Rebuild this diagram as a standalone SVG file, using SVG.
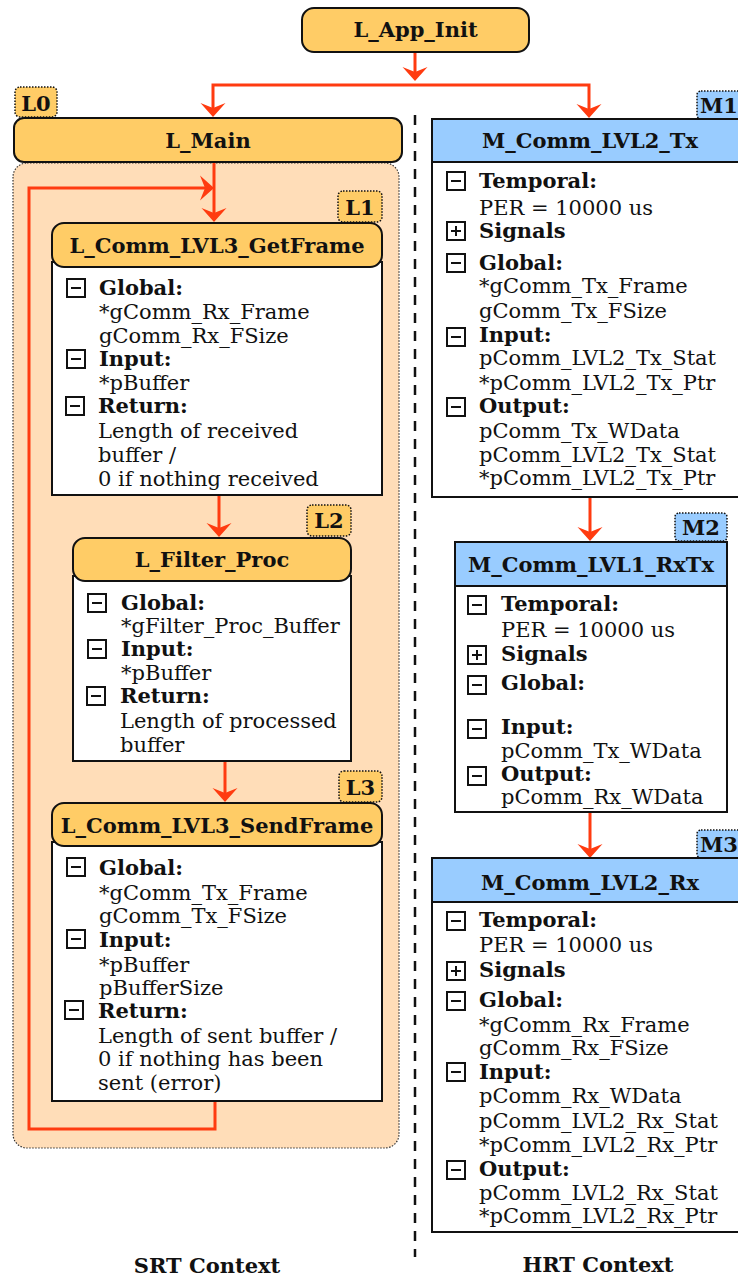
<svg xmlns="http://www.w3.org/2000/svg" xmlns:xlink="http://www.w3.org/1999/xlink" width="738" height="1277" viewBox="0 0 738 1277">
<style>
.t{font-family:"DejaVu Serif",serif;font-weight:bold;font-size:21px;text-anchor:middle;fill:#111}
.b{font-family:"DejaVu Serif",serif;font-weight:bold;font-size:21px;fill:#111}
.r{font-family:"DejaVu Serif",serif;font-size:21px;fill:#111}
.org{fill:#FFCC66;stroke:#111;stroke-width:2}
.blu{fill:#99CCFF;stroke:#111;stroke-width:2}
.body{fill:#fff;stroke:#111;stroke-width:2}
.bo{fill:#FFCC66;stroke:#111;stroke-width:1.5;stroke-dasharray:1.5 1.5}
.bb{fill:#99CCFF;stroke:#111;stroke-width:1.5;stroke-dasharray:1.5 1.5}
.con{fill:none;stroke:#FF3B10;stroke-width:3}
</style>
<defs>
<marker id="ah" viewBox="-11 -13 16 26" refX="0" refY="0" markerWidth="16" markerHeight="26" markerUnits="userSpaceOnUse" orient="auto">
<path d="M4,0 L-10,-12.5 L-5,0 L-10,12.5 Z" fill="#FF3B10"/>
</marker>
<g id="mi"><rect x="0" y="0" width="18" height="18" fill="#fff" stroke="#111" stroke-width="2"/><line x1="4" y1="9" x2="14" y2="9" stroke="#111" stroke-width="2"/></g>
<g id="pl"><rect x="0" y="0" width="18" height="18" fill="#fff" stroke="#111" stroke-width="2"/><line x1="4" y1="9" x2="14" y2="9" stroke="#111" stroke-width="2"/><line x1="9" y1="4" x2="9" y2="14" stroke="#111" stroke-width="2"/></g>
</defs>

<g id="container-L0">
<rect x="13" y="163" width="386" height="985" rx="14" fill="#FFDDB8" stroke="#333" stroke-width="1.2" stroke-dasharray="1.5 1.5"/>
</g>

<line x1="415" y1="115" x2="415" y2="1257" stroke="#111" stroke-width="2.5" stroke-dasharray="10 8"/>

<g id="connectors">
<path class="con" d="M415,52 V77" marker-end="url(#ah)"/>
<path class="con" d="M415,85 H213 V113" marker-end="url(#ah)"/>
<path class="con" d="M415,85 H589 V114" marker-end="url(#ah)"/>
<path class="con" d="M214,163 V218" marker-end="url(#ah)"/>
<path class="con" d="M215,1101 V1129 H29 V188 H210" marker-end="url(#ah)"/>
<path class="con" d="M219,496 V533" marker-end="url(#ah)"/>
<path class="con" d="M225,761 V798" marker-end="url(#ah)"/>
<path class="con" d="M590,497 V537" marker-end="url(#ah)"/>
<path class="con" d="M590,812 V854" marker-end="url(#ah)"/>
</g>

<g id="L_App_Init">
<rect class="org" x="302" y="8" width="227" height="44" rx="12"/>
<text class="t" x="415.5" y="37">L_App_Init</text>
</g>

<g id="badge-L0"><rect class="bo" x="15" y="87" width="42" height="30" rx="5"/><text class="t" x="36" y="111">L0</text></g>
<g id="L_Main">
<rect class="org" x="14" y="118" width="388" height="44" rx="10"/>
<text class="t" x="208" y="148">L_Main</text>
</g>

<g id="badge-L1"><rect class="bo" x="338" y="191" width="44" height="31" rx="5"/><text class="t" x="360" y="215">L1</text></g>
<g id="L_Comm_LVL3_GetFrame">
<rect class="body" x="52" y="262" width="330" height="233"/>
<rect class="org" x="52" y="223" width="330" height="44" rx="12"/>
<text class="t" x="217" y="253">L_Comm_LVL3_GetFrame</text>
<use xlink:href="#mi" x="67" y="279"/><text class="b" x="99" y="295">Global:</text>
<text class="r" x="99" y="319">*gComm_Rx_Frame</text>
<text class="r" x="99" y="343">gComm_Rx_FSize</text>
<use xlink:href="#mi" x="67" y="350"/><text class="b" x="99" y="366">Input:</text>
<text class="r" x="99" y="390">*pBuffer</text>
<use xlink:href="#mi" x="66" y="397"/><text class="b" x="98" y="413">Return:</text>
<text class="r" x="98" y="438">Length of received</text>
<text class="r" x="98" y="462">buffer /</text>
<text class="r" x="98" y="486">0 if nothing received</text>
</g>

<g id="badge-L2"><rect class="bo" x="307" y="505" width="44" height="31" rx="5"/><text class="t" x="329" y="528">L2</text></g>
<g id="L_Filter_Proc">
<rect class="body" x="73" y="576" width="278" height="185"/>
<rect class="org" x="73" y="538" width="278" height="43" rx="12"/>
<text class="t" x="212" y="567">L_Filter_Proc</text>
<use xlink:href="#mi" x="88" y="594"/><text class="b" x="121" y="610">Global:</text>
<text class="r" x="121" y="633">*gFilter_Proc_Buffer</text>
<use xlink:href="#mi" x="88" y="640"/><text class="b" x="121" y="656">Input:</text>
<text class="r" x="121" y="680">*pBuffer</text>
<use xlink:href="#mi" x="87" y="687"/><text class="b" x="120" y="703">Return:</text>
<text class="r" x="120" y="728">Length of processed</text>
<text class="r" x="120" y="752">buffer</text>
</g>

<g id="badge-L3"><rect class="bo" x="339" y="771" width="43" height="31" rx="5"/><text class="t" x="360.5" y="795">L3</text></g>
<g id="L_Comm_LVL3_SendFrame">
<rect class="body" x="52" y="842" width="330" height="259"/>
<rect class="org" x="52" y="803" width="330" height="43" rx="12"/>
<text class="t" x="217" y="833">L_Comm_LVL3_SendFrame</text>
<use xlink:href="#mi" x="67" y="858"/><text class="b" x="99" y="875">Global:</text>
<text class="r" x="99" y="900">*gComm_Tx_Frame</text>
<text class="r" x="99" y="923">gComm_Tx_FSize</text>
<use xlink:href="#mi" x="67" y="930"/><text class="b" x="99" y="947">Input:</text>
<text class="r" x="99" y="972">*pBuffer</text>
<text class="r" x="99" y="995">pBufferSize</text>
<use xlink:href="#mi" x="65" y="1001"/><text class="b" x="98" y="1018">Return:</text>
<text class="r" x="98" y="1043">Length of sent buffer /</text>
<text class="r" x="98" y="1066">0 if nothing has been</text>
<text class="r" x="98" y="1090">sent (error)</text>
</g>

<g id="badge-M1"><rect class="bb" x="697" y="91" width="52" height="28" rx="4"/><text class="b" x="700" y="113">M1</text></g>
<g id="M_Comm_LVL2_Tx">
<rect class="body" x="432" y="162" width="316" height="335"/>
<rect class="blu" x="432" y="119" width="316" height="43"/>
<text class="t" x="590" y="148">M_Comm_LVL2_Tx</text>
<use xlink:href="#mi" x="447" y="172"/><text class="b" x="479" y="188">Temporal:</text>
<text class="r" x="479" y="215">PER = 10000 us</text>
<use xlink:href="#pl" x="447" y="222"/><text class="b" x="479" y="238">Signals</text>
<use xlink:href="#mi" x="447" y="254"/><text class="b" x="479" y="270">Global:</text>
<text class="r" x="479" y="293">*gComm_Tx_Frame</text>
<text class="r" x="479" y="318">gComm_Tx_FSize</text>
<use xlink:href="#mi" x="447" y="328"/><text class="b" x="479" y="342">Input:</text>
<text class="r" x="479" y="365">pComm_LVL2_Tx_Stat</text>
<text class="r" x="479" y="390">*pComm_LVL2_Tx_Ptr</text>
<use xlink:href="#mi" x="447" y="398"/><text class="b" x="479" y="413">Output:</text>
<text class="r" x="479" y="438">pComm_Tx_WData</text>
<text class="r" x="479" y="462">pComm_LVL2_Tx_Stat</text>
<text class="r" x="479" y="485">*pComm_LVL2_Tx_Ptr</text>
</g>

<g id="badge-M2"><rect class="bb" x="675" y="513" width="52" height="28" rx="4"/><text class="t" x="701" y="535">M2</text></g>
<g id="M_Comm_LVL1_RxTx">
<rect class="body" x="455" y="586" width="272" height="226"/>
<rect class="blu" x="455" y="542" width="272" height="44"/>
<text class="t" x="591" y="572">M_Comm_LVL1_RxTx</text>
<use xlink:href="#mi" x="468" y="596"/><text class="b" x="501" y="611">Temporal:</text>
<text class="r" x="501" y="637">PER = 10000 us</text>
<use xlink:href="#pl" x="468" y="646"/><text class="b" x="501" y="661">Signals</text>
<use xlink:href="#mi" x="468" y="676"/><text class="b" x="501" y="690">Global:</text>
<use xlink:href="#mi" x="468" y="720"/><text class="b" x="501" y="734">Input:</text>
<text class="r" x="501" y="758">pComm_Tx_WData</text>
<use xlink:href="#mi" x="468" y="767"/><text class="b" x="501" y="781">Output:</text>
<text class="r" x="501" y="804">pComm_Rx_WData</text>
</g>

<g id="badge-M3"><rect class="bb" x="697" y="830" width="52" height="28" rx="4"/><text class="b" x="700" y="852">M3</text></g>
<g id="M_Comm_LVL2_Rx">
<rect class="body" x="432" y="902" width="316" height="330"/>
<rect class="blu" x="432" y="858" width="316" height="44"/>
<text class="t" x="590" y="890">M_Comm_LVL2_Rx</text>
<use xlink:href="#mi" x="447" y="912"/><text class="b" x="479" y="927">Temporal:</text>
<text class="r" x="479" y="952">PER = 10000 us</text>
<use xlink:href="#pl" x="447" y="962"/><text class="b" x="479" y="977">Signals</text>
<use xlink:href="#mi" x="447" y="992"/><text class="b" x="479" y="1007">Global:</text>
<text class="r" x="479" y="1032">*gComm_Rx_Frame</text>
<text class="r" x="479" y="1055">gComm_Rx_FSize</text>
<use xlink:href="#mi" x="447" y="1063"/><text class="b" x="479" y="1079">Input:</text>
<text class="r" x="479" y="1103">pComm_Rx_WData</text>
<text class="r" x="479" y="1128">pComm_LVL2_Rx_Stat</text>
<text class="r" x="479" y="1152">*pComm_LVL2_Rx_Ptr</text>
<use xlink:href="#mi" x="447" y="1161"/><text class="b" x="479" y="1176">Output:</text>
<text class="r" x="479" y="1200">pComm_LVL2_Rx_Stat</text>
<text class="r" x="479" y="1223">*pComm_LVL2_Rx_Ptr</text>
</g>

<g id="labels">
<text class="t" x="207" y="1273">SRT Context</text>
<text class="t" x="598" y="1272">HRT Context</text>
</g>
</svg>
